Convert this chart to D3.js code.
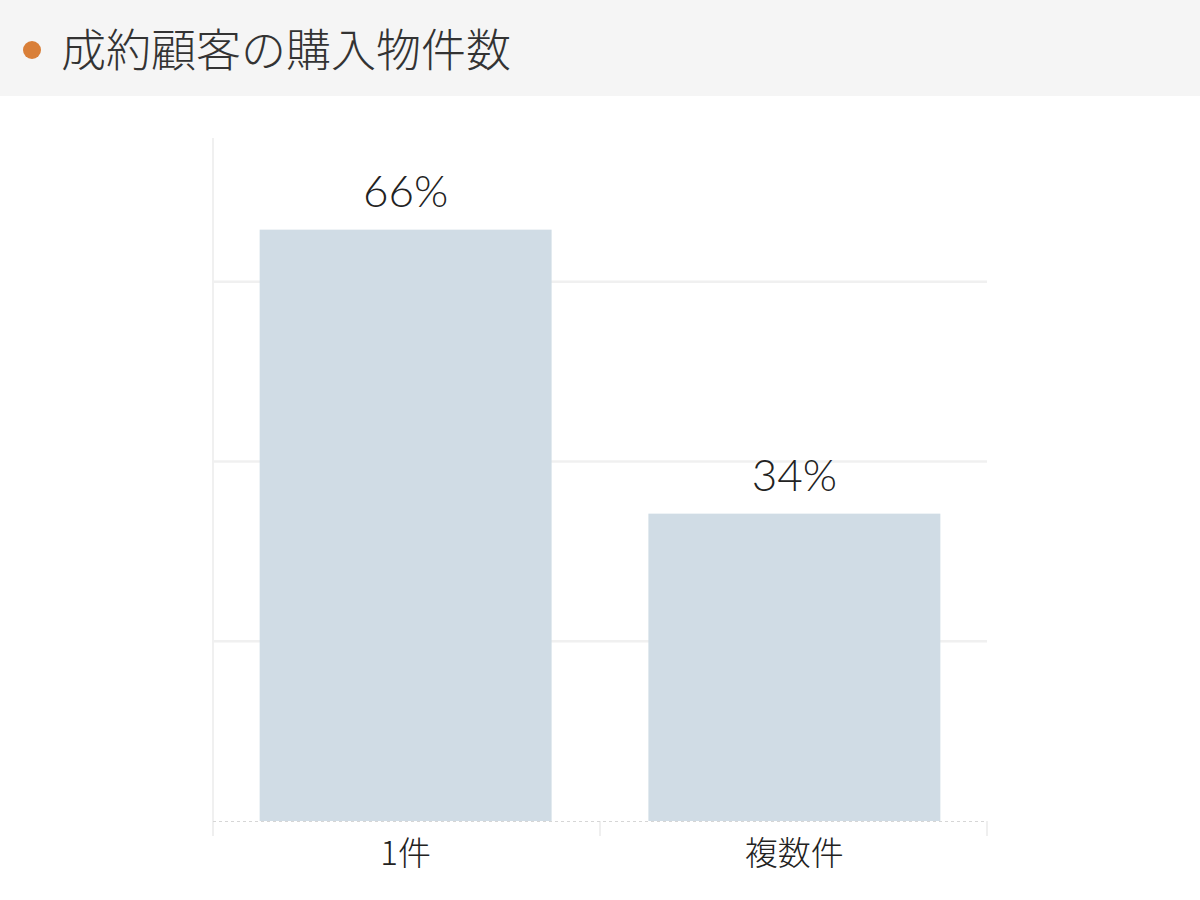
<!DOCTYPE html>
<html lang="ja">
<head>
<meta charset="utf-8">
<title>成約顧客の購入物件数</title>
<script src="https://cdn.jsdelivr.net/npm/d3@7"></script>
<style>
    html, body { margin: 0; padding: 0; background: #fff; }
    body { width: 1200px; height: 900px; overflow: hidden; }
</style>
</head>
<body>
<div id="chart"></div>
<script>
// Chart data
const title = '成約顧客の購入物件数';
const categories = ['1件', '複数件'];
const values = [65.8, 34.2];
const gridTicks = [20, 40, 60];
const yMax = 76;

const width = 1200;
const height = 900;
const margin = { top: 138, right: 213, bottom: 79, left: 213 };

const jpFont = '"Noto Sans CJK JP", "Noto Sans", sans-serif';

const svg = d3.select('#chart')
    .append('svg')
    .attr('width', width)
    .attr('height', height);

// Title band
svg.append('rect')
    .attr('x', 0).attr('y', 0)
    .attr('width', width).attr('height', 96)
    .attr('fill', '#f5f5f5');

svg.append('circle')
    .attr('cx', 32).attr('cy', 50).attr('r', 9)
    .attr('fill', '#d97f38');

svg.append('text')
    .attr('x', 61).attr('y', 67)
    .style('font-family', jpFont)
    .style('font-size', '45px')
    .style('font-weight', 300)
    .attr('fill', '#333')
    .text(title);

// Scales
const x = d3.scaleBand()
    .domain(categories)
    .range([margin.left, width - margin.right])
    .paddingInner(0.249)
    .paddingOuter(0.12);

// band edges for the little separator ticks under the axis
const edges = d3.scaleLinear()
    .domain([0, categories.length])
    .range([margin.left, width - margin.right]);

const y = d3.scaleLinear()
    .domain([0, yMax])
    .range([height - margin.bottom, margin.top]);

const baseY = y(0);

// Grid lines
svg.append('g')
    .selectAll('line')
    .data(gridTicks)
    .enter().append('line')
    .attr('x1', margin.left)
    .attr('x2', width - margin.right)
    .attr('y1', d => y(d))
    .attr('y2', d => y(d))
    .attr('stroke', '#f0f0f0')
    .attr('stroke-width', 2.5);

// Left axis line
svg.append('line')
    .attr('x1', margin.left).attr('x2', margin.left)
    .attr('y1', y(yMax)).attr('y2', baseY + 15)
    .attr('stroke', '#f0f0f0')
    .attr('stroke-width', 2);

// Category separator ticks
svg.append('g')
    .selectAll('line')
    .data(d3.range(categories.length + 1))
    .enter().append('line')
    .attr('x1', d => edges(d)).attr('x2', d => edges(d))
    .attr('y1', baseY).attr('y2', baseY + 15)
    .attr('stroke', '#efefef')
    .attr('stroke-width', 2);

// Bars
svg.append('g')
    .selectAll('rect')
    .data(values)
    .enter().append('rect')
    .attr('x', (d, i) => x(categories[i]))
    .attr('y', d => y(d))
    .attr('width', x.bandwidth())
    .attr('height', d => baseY - y(d))
    .attr('fill', '#d0dce5');

// Baseline (dashed)
svg.append('line')
    .attr('x1', margin.left).attr('x2', width - margin.right)
    .attr('y1', baseY + 0.5).attr('y2', baseY + 0.5)
    .attr('stroke', '#d6d6d6')
    .attr('stroke-width', 1)
    .attr('stroke-dasharray', '3,3');

// Value labels
svg.append('g')
    .selectAll('text')
    .data(values)
    .enter().append('text')
    .attr('x', (d, i) => x(categories[i]) + x.bandwidth() / 2)
    .attr('y', d => y(d) - 23)
    .attr('text-anchor', 'middle')
    .style('font-family', 'Lato, "Noto Sans", sans-serif')
    .style('font-size', '44px')
    .style('font-weight', 300)
    .attr('fill', '#222')
    .text(d => Math.round(d) + '%');

// Category labels
svg.append('g')
    .selectAll('text')
    .data(categories)
    .enter().append('text')
    .attr('x', d => x(d) + x.bandwidth() / 2)
    .attr('y', baseY + 44)
    .attr('text-anchor', 'middle')
    .style('font-family', jpFont)
    .style('font-size', '33px')
    .style('font-weight', 300)
    .attr('fill', '#222')
    .text(d => d);
</script>
</body>
</html>
